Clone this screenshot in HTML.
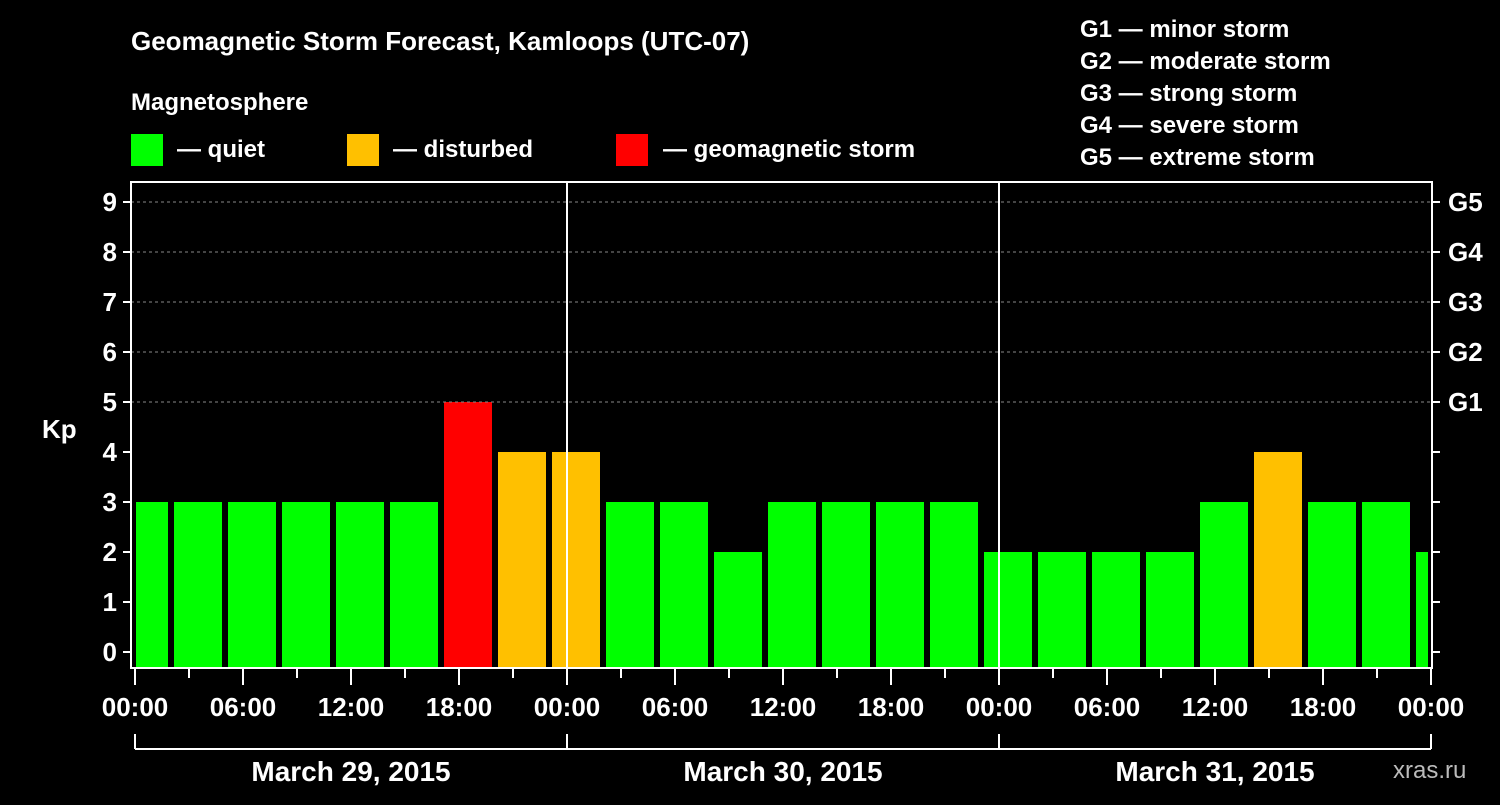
<!DOCTYPE html>
<html><head><meta charset="utf-8"><style>
body{margin:0;background:#000;width:1500px;height:800px;overflow:hidden}
svg text{font-family:"Liberation Sans",Arial,sans-serif;font-weight:bold;fill:#fff}
</style></head><body>
<svg id="c" width="1500" height="800" xmlns="http://www.w3.org/2000/svg">
<text x="131" y="50" font-size="26">Geomagnetic Storm Forecast, Kamloops (UTC-07)</text>
<text x="131" y="110" font-size="24">Magnetosphere</text>
<g><rect x="131" y="134" width="32" height="32" fill="#00ff00"/><text x="177" y="157" font-size="24">— quiet</text></g>
<g><rect x="347" y="134" width="32" height="32" fill="#ffc000"/><text x="393" y="157" font-size="24">— disturbed</text></g>
<g><rect x="616" y="134" width="32" height="32" fill="#ff0000"/><text x="663" y="157" font-size="24">— geomagnetic storm</text></g>
<g font-size="24">
<text x="1080" y="37">G1 — minor storm</text><text x="1080" y="69">G2 — moderate storm</text><text x="1080" y="101">G3 — strong storm</text><text x="1080" y="133">G4 — severe storm</text><text x="1080" y="165">G5 — extreme storm</text></g>
<text x="42" y="438" font-size="26">Kp</text>
<text x="1393" y="778" font-size="24" fill="#bbb" style="fill:#bbb;font-weight:normal">xras.ru</text>
<g id="bars"></g><g id="axes"></g>
</svg>
<script>
const kpValues=[3,3,3,3,3,3,5,4,4,3,3,2,3,3,3,3,2,2,2,2,3,4,3,3,2];
const hourLabels=["00:00","06:00","12:00","18:00","00:00","06:00","12:00","18:00","00:00","06:00","12:00","18:00","00:00"];
const dayLabels=["March 29, 2015","March 30, 2015","March 31, 2015"];
const gLabels=["G1","G2","G3","G4","G5"];
const L=131,R=1432,T=182,B=668,X0=135,PXH=18;
const xs=h=>X0+PXH*h, ys=v=>652-50*v;
const NS="http://www.w3.org/2000/svg";
function mk(p,t,a){const e=document.createElementNS(NS,t);for(const k in a)e.setAttribute(k,a[k]);p.appendChild(e);return e;}
const bars=document.getElementById('bars'),ax=document.getElementById('axes');
// grid
for(let v=5;v<=9;v++){const g=mk(ax,'line',{x1:L,x2:R,y1:ys(v),y2:ys(v),stroke:'#888','stroke-dasharray':'3,3','stroke-width':1});

}
kpValues.forEach((v,i)=>{const c=xs(0.5+3*i);let x1=Math.max(c-24,L+5),x2=Math.min(c+24,R-4);
const col=v>=5?'#ff0000':v==4?'#ffc000':'#00ff00';
const r=mk(bars,'rect',{x:x1,y:ys(v),width:x2-x1,height:B-ys(v),fill:col});

});
// day separators
[1,2].forEach(d=>{const l=mk(ax,'line',{x1:xs(24*d),x2:xs(24*d),y1:T,y2:B,stroke:'#fff','stroke-width':2});

});
mk(ax,'rect',{x:L,y:T,width:R-L,height:B-T,fill:'none',stroke:'#fff','stroke-width':2});
for(let v=0;v<=9;v++){
mk(ax,'line',{x1:L-8,x2:L,y1:ys(v),y2:ys(v),stroke:'#fff','stroke-width':2});
mk(ax,'line',{x1:R,x2:R+8,y1:ys(v),y2:ys(v),stroke:'#fff','stroke-width':2});
const t=mk(ax,'text',{x:L-14,y:ys(v)+9,'font-size':26,'text-anchor':'end'});t.textContent=v;

}
gLabels.forEach((g,i)=>{const t=mk(ax,'text',{x:R+16,y:ys(5+i)+9,'font-size':26});t.textContent=g;

});
for(let h=0;h<=72;h+=3){mk(ax,'line',{x1:xs(h),x2:xs(h),y1:B,y2:h%6?678:685,stroke:'#fff','stroke-width':2});}
hourLabels.forEach((s,i)=>{const t=mk(ax,'text',{x:xs(6*i),y:716,'font-size':26,'text-anchor':'middle'});t.textContent=s;

});
mk(ax,'line',{x1:xs(0),x2:xs(72),y1:749,y2:749,stroke:'#fff','stroke-width':2});
for(let d=0;d<=3;d++)mk(ax,'line',{x1:xs(24*d),x2:xs(24*d),y1:734,y2:749,stroke:'#fff','stroke-width':2});
dayLabels.forEach((s,i)=>{const t=mk(ax,'text',{x:xs(24*i+12),y:781,'font-size':28,'text-anchor':'middle'});t.textContent=s;

});
</script></body></html>
